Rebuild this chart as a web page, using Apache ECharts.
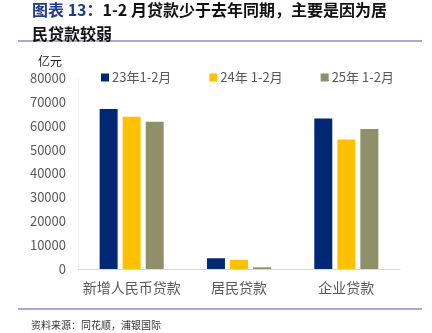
<!DOCTYPE html>
<html><head><meta charset="utf-8">
<script src="https://cdn.jsdelivr.net/npm/echarts@6/dist/echarts.min.js"></script>
<style>html,body{margin:0;padding:0;background:#fff}#c{width:432px;height:333px}</style>
</head><body><div id="c"></div>
<script>
var categories = ['新增人民币贷款', '居民贷款', '企业贷款'];
var seriesNames = ['23年1-2月', '24年 1-2月', '25年 1-2月'];
var s2023 = [67000, 4500, 63000];
var s2024 = [63800, 3800, 54200];
var s2025 = [61700, 700, 58600];
var yTicks = [0, 10000, 20000, 30000, 40000, 50000, 60000, 70000, 80000];
var colors = ['#002874', '#FFC000', '#8F8F6A'];

var chart = echarts.init(document.getElementById('c'), null, {renderer: 'canvas'});
var font = '"Noto Sans CJK SC", "Noto Sans", sans-serif';
var data = [s2023, s2024, s2025];
chart.setOption({
  animation: false,
  color: colors,
  title: [{
    left: 27, top: -7,
    text: '{a|图表 13：}{b|1-2 月贷款少于去年同期，主要是因为居}\n{b|民贷款较弱}',
    textStyle: {
      fontFamily: font,
      rich: {
        a: {color: '#1F3C8C', fontSize: 16, fontWeight: 'bold', fontFamily: font, lineHeight: 24},
        b: {color: '#111', fontSize: 16, fontWeight: 'bold', fontFamily: font, lineHeight: 24}
      }
    }
  }, {
    left: 26, top: 315,
    text: '资料来源：同花顺，浦银国际',
    textStyle: {color: '#333', fontSize: 10, fontWeight: 'normal', fontFamily: font}
  }],
  graphic: [
    {type: 'line', shape: {x1: 18, y1: 41, x2: 422, y2: 41}, style: {stroke: '#8C8CC4', lineWidth: 1.5}},
    {type: 'line', shape: {x1: 18, y1: 309, x2: 422, y2: 309}, style: {stroke: '#8C8CC4', lineWidth: 1.5}},
    {type: 'text', left: 38, top: 55, style: {text: '亿元', fontSize: 12, fill: '#222', fontFamily: font}}
  ],
  legend: {
    top: 66, left: 96, itemGap: 38,
    itemWidth: 8, itemHeight: 8, icon: 'rect',
    textStyle: {color: '#595959', fontSize: 13, fontFamily: font, padding: [0, 0, 0, -2]},
    data: seriesNames
  },
  grid: {left: 78, right: 32, top: 78, bottom: 64},
  xAxis: {
    type: 'category', data: categories,
    axisLine: {lineStyle: {color: '#D9D9D9'}},
    axisTick: {show: false},
    axisLabel: {color: '#595959', fontSize: 14, fontFamily: font, margin: 12, interval: 0}
  },
  yAxis: {
    type: 'value', min: yTicks[0], max: yTicks[yTicks.length - 1], interval: 10000,
    axisLine: {show: true, lineStyle: {color: '#F0F0F0'}},
    splitLine: {show: false},
    axisTick: {show: false},
    axisLabel: {color: '#595959', fontSize: 13, fontFamily: font, margin: 12,
      formatter: function (v) { return String(v); }}
  },
  series: seriesNames.map(function (n, i) {
    return {name: n, type: 'bar', data: data[i], barWidth: 18, barGap: '28%'};
  })
});
</script></body></html>
